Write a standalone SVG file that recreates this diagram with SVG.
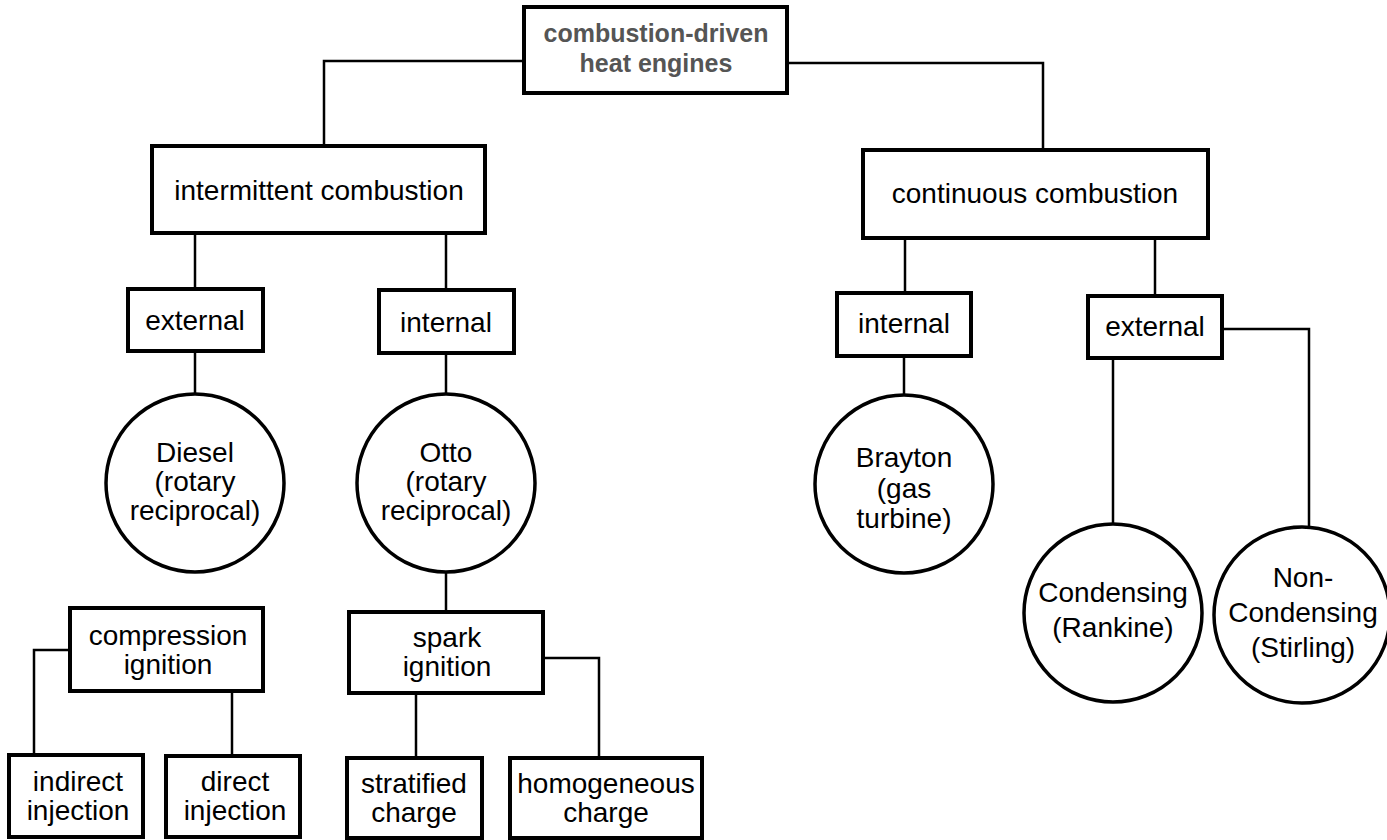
<svg xmlns="http://www.w3.org/2000/svg" width="1387" height="840" viewBox="0 0 1387 840">
<style>
.box{fill:#fff;stroke:#000;stroke-width:4}
.circ{fill:#fff;stroke:#000;stroke-width:3.5}
.conn{fill:none;stroke:#000;stroke-width:2.5}
.t{font-family:"Liberation Sans",Arial,Helvetica,sans-serif;font-size:28px;fill:#000;text-anchor:middle}
.title{font-family:"Liberation Sans",Arial,Helvetica,sans-serif;font-size:25px;font-weight:bold;fill:#555;text-anchor:middle}
</style>
<rect width="1387" height="840" fill="#fff"/>
<g id="connectors">
<polyline class="conn" points="524,61 324,61 324,146"/>
<polyline class="conn" points="787,63 1043,63 1043,150"/>
<line class="conn" x1="195" y1="233" x2="195" y2="289"/>
<line class="conn" x1="446" y1="233" x2="446" y2="290"/>
<line class="conn" x1="195" y1="351" x2="195" y2="394"/>
<line class="conn" x1="446" y1="353" x2="446" y2="394"/>
<line class="conn" x1="446" y1="572" x2="446" y2="612"/>
<polyline class="conn" points="70,650 34,650 34,755"/>
<line class="conn" x1="232" y1="691" x2="232" y2="756"/>
<line class="conn" x1="416" y1="693" x2="416" y2="758"/>
<polyline class="conn" points="543,658 599,658 599,758"/>
<line class="conn" x1="905" y1="238" x2="905" y2="293"/>
<line class="conn" x1="1155" y1="238" x2="1155" y2="296"/>
<line class="conn" x1="904" y1="356" x2="904" y2="396"/>
<line class="conn" x1="1113" y1="358" x2="1113" y2="525"/>
<polyline class="conn" points="1222,329 1309,329 1309,527"/>
</g>
<g id="root">
<rect class="box" x="524" y="7" width="263" height="86"/>
<text class="title" x="656" y="42">combustion-driven</text>
<text class="title" x="656" y="72">heat engines</text>
</g>
<g id="intermittent">
<rect class="box" x="152" y="146" width="333" height="87"/>
<text class="t" x="319" y="200">intermittent combustion</text>
</g>
<g id="continuous">
<rect class="box" x="863" y="150" width="345" height="88"/>
<text class="t" x="1035" y="203">continuous combustion</text>
</g>
<g id="external-left">
<rect class="box" x="128" y="289" width="135" height="62"/>
<text class="t" x="195" y="330">external</text>
</g>
<g id="internal-left">
<rect class="box" x="379" y="290" width="135" height="63"/>
<text class="t" x="446" y="332">internal</text>
</g>
<g id="diesel">
<circle class="circ" cx="195" cy="483" r="89"/>
<text class="t" x="195" y="462">Diesel</text>
<text class="t" x="195" y="491">(rotary</text>
<text class="t" x="195" y="520">reciprocal)</text>
</g>
<g id="otto">
<circle class="circ" cx="446" cy="483" r="89"/>
<text class="t" x="446" y="462">Otto</text>
<text class="t" x="446" y="491">(rotary</text>
<text class="t" x="446" y="520">reciprocal)</text>
</g>
<g id="compression-ignition">
<rect class="box" x="70" y="608" width="193" height="83"/>
<text class="t" x="168" y="645">compression</text>
<text class="t" x="168" y="674">ignition</text>
</g>
<g id="spark-ignition">
<rect class="box" x="349" y="612" width="194" height="81"/>
<text class="t" x="447" y="647">spark</text>
<text class="t" x="447" y="676">ignition</text>
</g>
<g id="indirect-injection">
<rect class="box" x="9" y="755" width="134" height="82"/>
<text class="t" x="78" y="791">indirect</text>
<text class="t" x="78" y="820">injection</text>
</g>
<g id="direct-injection">
<rect class="box" x="166" y="756" width="134" height="81"/>
<text class="t" x="235" y="791">direct</text>
<text class="t" x="235" y="820">injection</text>
</g>
<g id="stratified-charge">
<rect class="box" x="347" y="758" width="135" height="80"/>
<text class="t" x="414" y="793">stratified</text>
<text class="t" x="414" y="822">charge</text>
</g>
<g id="homogeneous-charge">
<rect class="box" x="510" y="758" width="192" height="80"/>
<text class="t" x="606" y="793">homogeneous</text>
<text class="t" x="606" y="822">charge</text>
</g>
<g id="internal-right">
<rect class="box" x="837" y="293" width="134" height="63"/>
<text class="t" x="904" y="333">internal</text>
</g>
<g id="external-right">
<rect class="box" x="1088" y="296" width="134" height="62"/>
<text class="t" x="1155" y="336">external</text>
</g>
<g id="brayton">
<circle class="circ" cx="904" cy="484" r="89"/>
<text class="t" x="904" y="467">Brayton</text>
<text class="t" x="904" y="498">(gas</text>
<text class="t" x="904" y="528">turbine)</text>
</g>
<g id="rankine">
<circle class="circ" cx="1113" cy="613" r="89"/>
<text class="t" x="1113" y="602">Condensing</text>
<text class="t" x="1113" y="637">(Rankine)</text>
</g>
<g id="stirling">
<circle class="circ" cx="1302" cy="615" r="88"/>
<text class="t" x="1303" y="587">Non-</text>
<text class="t" x="1303" y="622">Condensing</text>
<text class="t" x="1303" y="657">(Stirling)</text>
</g>
</svg>
